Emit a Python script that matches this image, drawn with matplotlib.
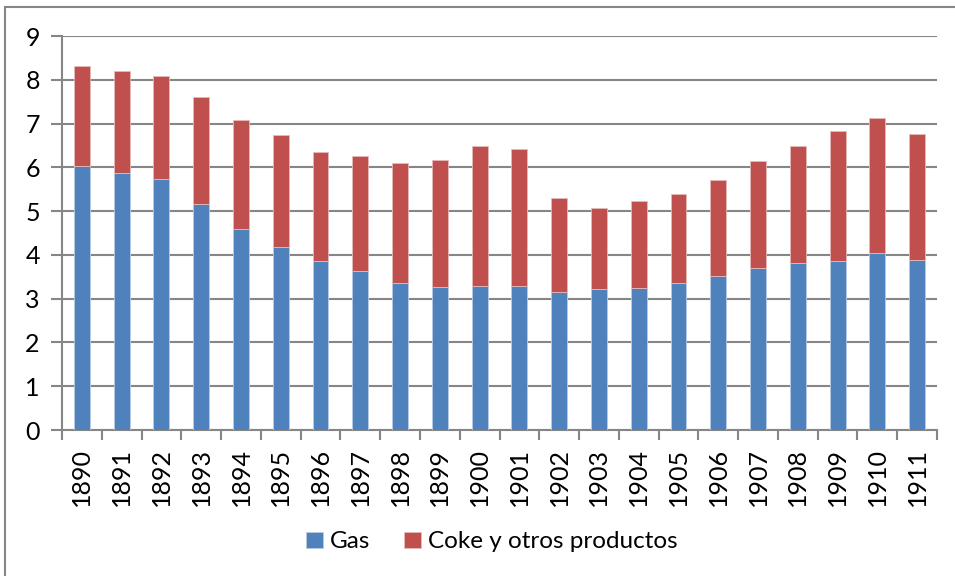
import numpy as np
import matplotlib.pyplot as plt
from matplotlib.patches import Rectangle

plt.rcParams['font.family'] = ['Lato', 'DejaVu Sans']

years = [str(y) for y in range(1890, 1912)]
gas = [6.03, 5.86, 5.73, 5.16, 4.60, 4.17, 3.87, 3.64, 3.36, 3.26, 3.30,
       3.30, 3.15, 3.21, 3.25, 3.35, 3.51, 3.69, 3.81, 3.87, 4.04, 3.89]
totals = [8.31, 8.21, 8.08, 7.61, 7.09, 6.74, 6.36, 6.27, 6.09, 6.17, 6.49,
          6.43, 5.31, 5.07, 5.22, 5.40, 5.71, 6.14, 6.48, 6.83, 7.13, 6.77]
coke = [t - g for t, g in zip(totals, gas)]

blue = '#4F81BD'
red = '#C0504D'
grid_col = '#868686'

fig = plt.figure(figsize=(9.55, 5.76), dpi=100)
ax = fig.add_axes([62 / 955, 146 / 576, 875 / 955, 394 / 576])

x = np.arange(len(years))
ax.bar(x, gas, width=0.4, color=blue, edgecolor='#B8CCE4', linewidth=0.6,
       label='Gas', zorder=3)
ax.bar(x, coke, width=0.4, bottom=gas, color=red, edgecolor='#E6B9B8',
       linewidth=0.6, label='Coke y otros productos', zorder=3)

ax.set_xlim(-0.5, len(years) - 0.5)
ax.set_ylim(0, 9)
ax.set_yticks(range(0, 10))
ax.yaxis.grid(True, color=grid_col, linewidth=1.5, zorder=0)
ax.tick_params(axis='y', length=8, width=1.5, color=grid_col, labelsize=18,
               pad=8)

ax.set_xticks(x)
ax.set_xticklabels(years, rotation=90, fontsize=18)
ax.set_xticks(np.arange(-0.5, len(years)), minor=True)
ax.tick_params(axis='x', which='major', length=0, pad=13)
ax.tick_params(axis='x', which='minor', length=7, width=1.5, color=grid_col)

for side in ['top', 'right']:
    ax.spines[side].set_visible(False)
for side in ['left', 'bottom']:
    ax.spines[side].set_color(grid_col)
    ax.spines[side].set_linewidth(1.5)

fig.legend(loc='center', bbox_to_anchor=(492 / 955, 1 - 542 / 576),
           ncol=2, frameon=False, fontsize=17.5, handlelength=0.68,
           handleheight=0.68, handletextpad=0.3, columnspacing=1.4)

# chart area border (cut off by the picture at right and bottom)
fig.patches.append(Rectangle((5 / 955, -0.02), 1.0, 1 - 7 / 576 + 0.02,
                             transform=fig.transFigure, fill=False,
                             edgecolor=grid_col, linewidth=1.5))

fig.savefig('out.png', dpi=100)
